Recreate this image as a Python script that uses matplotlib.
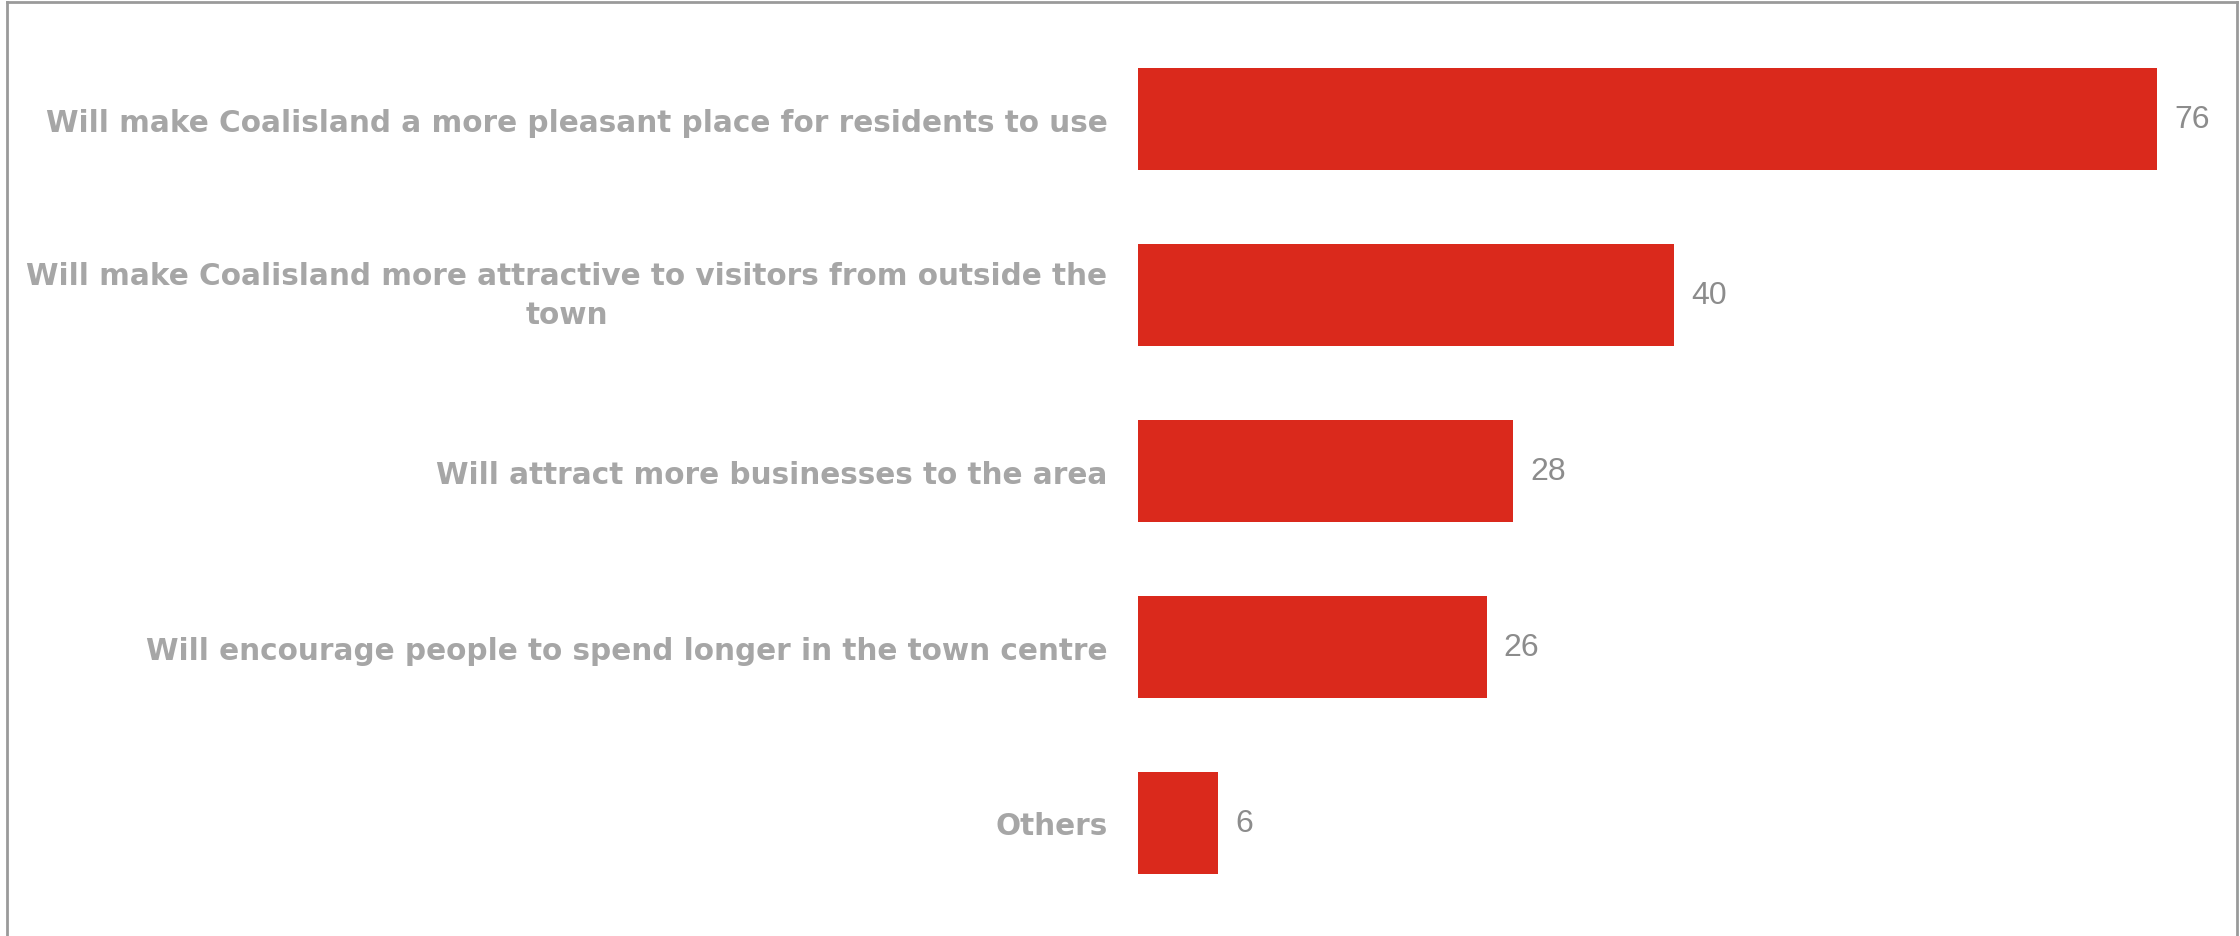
import matplotlib
matplotlib.use("Agg")
import matplotlib.pyplot as plt
from matplotlib.lines import Line2D

# Survey responses: perceived benefits
categories = [
    "Will make Coalisland a more pleasant place for residents to use",
    "Will make Coalisland more attractive to visitors from outside the\ntown",
    "Will attract more businesses to the area",
    "Will encourage people to spend longer in the town centre",
    "Others",
]
values = [76, 40, 28, 26, 6]

BAR_COLOR = "#da291c"
LABEL_COLOR = "#a6a6a6"
VALUE_COLOR = "#8c8c8c"

fig = plt.figure(figsize=(22.4, 9.37), dpi=100)
fig.patch.set_facecolor("white")
ax = fig.add_axes([0.508, 0.0267, 0.479, 0.9391])

ypos = list(range(len(categories)))
ax.barh(ypos, values, height=0.575, color=BAR_COLOR)

ax.set_xlim(0, 80)
ax.set_ylim(len(categories) - 0.5, -0.5)

ax.set_yticks(ypos)
ax.set_yticklabels(categories, fontsize=21.25, fontweight="bold",
                   color=LABEL_COLOR, family="DejaVu Sans",
                   multialignment="center", linespacing=1.45)
# wrapped labels are centred on their bar as a block
for lbl in ax.get_yticklabels():
    if "\n" in lbl.get_text():
        lbl.set_verticalalignment("center")
ax.tick_params(axis="y", length=0, pad=22)
ax.set_xticks([])

for spine in ax.spines.values():
    spine.set_visible(False)

# value labels at the bar ends
for y, v in zip(ypos, values):
    ax.annotate(str(v), xy=(v, y), xytext=(12, 0), textcoords="offset points",
                ha="left", va="center", fontsize=23, color=VALUE_COLOR,
                family="Liberation Sans")

# thin frame around the chart (open at the bottom)
W, H = 2240, 937
frame = dict(color="#9a9a9a", linewidth=2.0, transform=fig.transFigure)
fig.add_artist(Line2D([7 / W, 7 / W], [0, 1 - 3 / H], **frame))
fig.add_artist(Line2D([7 / W, 2237 / W], [1 - 3 / H, 1 - 3 / H], **frame))
fig.add_artist(Line2D([2237 / W, 2237 / W], [0, 1 - 3 / H], **frame))

fig.savefig("out.png", dpi=100)
plt.close(fig)
